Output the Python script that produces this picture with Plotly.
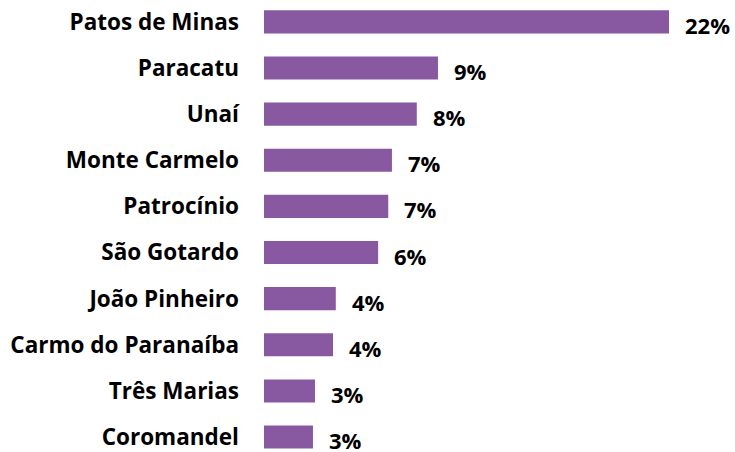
import plotly.graph_objects as go

categories = ["Patos de Minas", "Paracatu", "Unaí", "Monte Carmelo", "Patrocínio",
              "São Gotardo", "João Pinheiro", "Carmo do Paranaíba", "Três Marias", "Coromandel"]
values = [22.0, 9.45, 8.3, 6.95, 6.75, 6.2, 3.9, 3.75, 2.77, 2.66]
labels = ["22%", "9%", "8%", "7%", "7%", "6%", "4%", "4%", "3%", "3%"]

FONT = "Open Sans"
BAR_COLOR = "#8859A0"

fig = go.Figure(go.Bar(
    x=values, y=categories, orientation="h",
    marker=dict(color=BAR_COLOR, line=dict(width=0)),
    hoverinfo="skip",
))

for c, v, t in zip(categories, values, labels):
    fig.add_annotation(x=v, y=c, text=f"<b>{t}</b>", showarrow=False,
                       xanchor="left", yanchor="middle", xshift=14, yshift=-3,
                       font=dict(family=FONT, size=22, color="#000000"))

fig.update_layout(
    width=735, height=452,
    margin=dict(l=264, r=66, t=0, b=0),
    paper_bgcolor="white", plot_bgcolor="white",
    bargap=0.5,
    showlegend=False,
    xaxis=dict(range=[0, 22], visible=False),
    yaxis=dict(range=[9.259, -0.474], showgrid=False, zeroline=False, showline=False,
               ticks="", ticklabelstandoff=24,
               tickfont=dict(family=FONT, size=22.5, color="#000000", weight="bold")),
)

fig.write_html("out.html", config={"displayModeBar": False},
               post_script="document.body.style.margin='0';")
